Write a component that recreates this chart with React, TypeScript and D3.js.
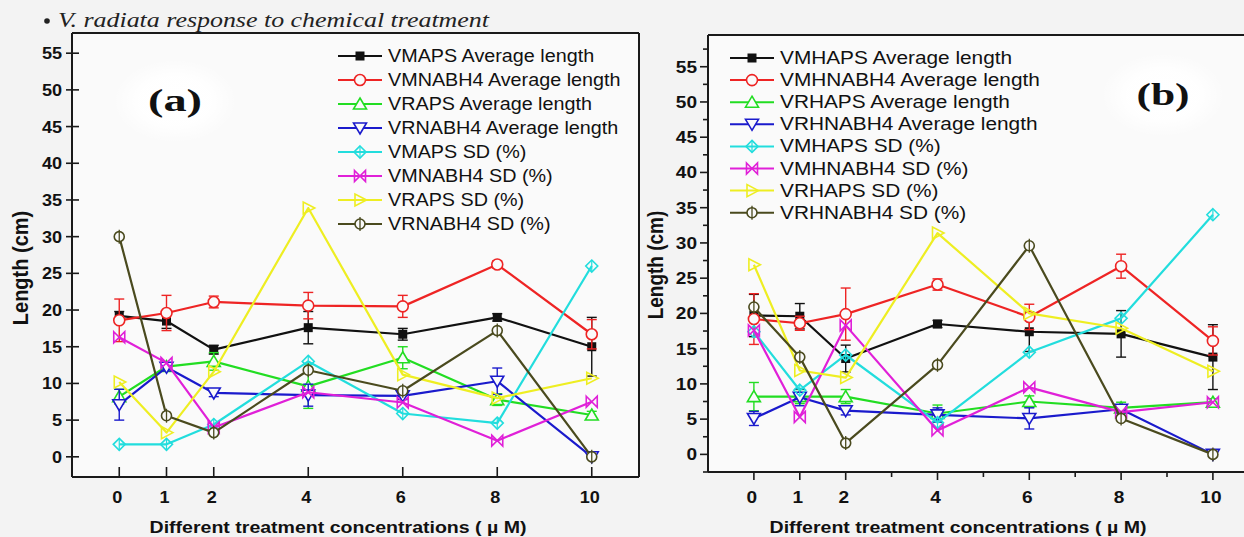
import React, { useEffect, useRef } from 'react'
import * as d3 from 'd3'

const W = 1244
const H = 537

// x categories (treatment concentration, µM)
const conc = [0, 1, 2, 4, 6, 8, 10]
const yTicks = [0, 5, 10, 15, 20, 25, 30, 35, 40, 45, 50, 55]

// panel (a)
const namesA = [
  'VMAPS Average length',
  'VMNABH4 Average length',
  'VRAPS Average length',
  'VRNABH4 Average length',
  'VMAPS SD (%)',
  'VMNABH4 SD (%)',
  'VRAPS SD (%)',
  'VRNABH4 SD (%)'
]
const aVMAPSAvg = [19.2, 18.5, 14.6, 17.6, 16.7, 19.0, 15.0]
const aVMAPSErr = [0.6, 1.0, 0.6, 2.2, 0.8, 0.5, 4.0]
const aVMNABH4Avg = [18.6, 19.6, 21.1, 20.6, 20.5, 26.2, 16.7]
const aVMNABH4Err = [2.9, 2.4, 0.8, 1.8, 1.5, 0.5, 2.0]
const aVRAPSAvg = [8.2, 12.3, 13.0, 9.6, 13.5, 7.8, 5.7]
const aVRAPSErr = [1.0, 0.5, 1.2, 3.0, 1.5, 0.8, 0.5]
const aVRNABH4Avg = [7.1, 12.2, 8.7, 8.4, 8.3, 10.3, 0]
const aVRNABH4Err = [2.1, 0.5, 0.5, 1.5, 0.5, 1.8, 0.3]
const aVMAPSSD = [1.7, 1.7, 4.4, 13.0, 5.9, 4.6, 26.0]
const aVMNABH4SD = [16.3, 12.8, 4.0, 8.8, 7.4, 2.2, 7.5]
const aVRAPSSD = [10.2, 3.3, 11.6, 33.9, 11.2, 8.0, 10.7]
const aVRNABH4SD = [30.0, 5.6, 3.3, 11.8, 9.0, 17.2, 0]

// panel (b)
const namesB = [
  'VMHAPS Average length',
  'VMHNABH4 Average length',
  'VRHAPS Average length',
  'VRHNABH4 Average length',
  'VMHAPS SD (%)',
  'VMHNABH4 SD (%)',
  'VRHAPS SD (%)',
  'VRHNABH4 SD (%)'
]
const bVMHAPSAvg = [19.7, 19.6, 13.6, 18.5, 17.4, 17.1, 13.8]
const bVMHAPSErr = [3.0, 1.8, 1.9, 0.5, 2.8, 3.3, 4.6]
const bVMHNABH4Avg = [19.2, 18.6, 19.9, 24.1, 19.5, 26.7, 16.1]
const bVMHNABH4Err = [3.6, 1.0, 3.7, 0.8, 1.8, 1.7, 2.0]
const bVRHAPSAvg = [8.2, 8.2, 8.2, 5.8, 7.5, 6.6, 7.4]
const bVRHAPSErr = [2.0, 1.0, 1.0, 1.2, 0.8, 0.8, 0.5]
const bVRHNABH4Avg = [5.1, 8.1, 6.2, 5.6, 5.1, 6.4, 0]
const bVRHNABH4Err = [1.0, 1.2, 0.6, 1.0, 1.5, 0.5, 0.3]
const bVMHAPSSD = [17.4, 9.1, 14.1, 4.5, 14.5, 19.3, 34.0]
const bVMHNABH4SD = [17.6, 5.3, 18.3, 3.4, 9.5, 6.0, 7.4]
const bVRHAPSSD = [26.9, 11.9, 10.9, 31.4, 20.0, 17.9, 11.8]
const bVRHNABH4SD = [20.9, 13.8, 1.6, 12.7, 29.6, 5.1, 0]

const colors = ['#111111', '#ee2424', '#22dd22', '#1a1acc', '#22dddd', '#e020d8', '#eeee22', '#4a4a1e']
const markers = ['square', 'circle', 'up', 'down', 'diamond', 'bowtie', 'right', 'phi']

const SANS = '"Liberation Sans", Arial, sans-serif'
const SERIF = '"Liberation Serif", "Times New Roman", serif'
const PLOT_BG = '#fafafa'

const panels = [
  {
    names: namesA,
    values: [aVMAPSAvg, aVMNABH4Avg, aVRAPSAvg, aVRNABH4Avg, aVMAPSSD, aVMNABH4SD, aVRAPSSD, aVRNABH4SD],
    errors: [aVMAPSErr, aVMNABH4Err, aVRAPSErr, aVRNABH4Err],
    left: 72, right: 639, top: 33, bottom: 477,
    yDomain: [-2.75, 57.75],
    sx: 1.13,
    legendX: 338, legendY: 56, legendStep: 24,
    tag: '(a)', tagX: 175, tagY: 111, tagSx: 1.45,
    yTitleX: 20, yTitleY: 268, yTitleSize: 20,
    xTitleX: 338,
    yLabelX: 62,
    xTickUp: true,
    minor: false,
    rightBorder: true
  },
  {
    names: namesB,
    values: [bVMHAPSAvg, bVMHNABH4Avg, bVRHAPSAvg, bVRHNABH4Avg, bVMHAPSSD, bVMHNABH4SD, bVRHAPSSD, bVRHNABH4SD],
    errors: [bVMHAPSErr, bVMHNABH4Err, bVRHAPSErr, bVRHNABH4Err],
    left: 708, right: 1260, top: 35, bottom: 472,
    yDomain: [-2.5, 59.5],
    sx: 1.19,
    legendX: 730, legendY: 58, legendStep: 22.1,
    tag: '(b)', tagX: 1163, tagY: 105, tagSx: 1.36,
    yTitleX: 656, yTitleY: 265, yTitleSize: 19,
    xTitleX: 958,
    yLabelX: 697,
    xTickUp: false,
    minor: true,
    rightBorder: false
  }
]

// text that is stretched sideways like the scanned figure
const label = (parent, x, y, str, opts) => {
  const { size = 16, weight = 'normal', sx = 1, anchor = 'start', family = SANS, fill = '#111' } = opts
  const g = parent.append('g').attr('transform', `translate(${x},${y}) scale(${sx},1)`)
  g.append('text')
    .attr('text-anchor', anchor)
    .attr('font-size', size)
    .attr('font-weight', weight)
    .attr('font-family', family)
    .attr('fill', fill)
    .text(str)
  return g
}

const drawMarker = (g, type, x, y, color) => {
  const sw = 1.6
  switch (type) {
    case 'square':
      g.append('rect').attr('x', x - 4.5).attr('y', y - 4.5).attr('width', 9).attr('height', 9).attr('fill', color)
      break
    case 'circle':
      g.append('circle').attr('cx', x).attr('cy', y).attr('r', 5.5).attr('fill', PLOT_BG).attr('stroke', color).attr('stroke-width', sw)
      break
    case 'up':
      g.append('path').attr('d', `M${x},${y - 6}L${x + 6.5},${y + 5}L${x - 6.5},${y + 5}Z`).attr('fill', PLOT_BG).attr('stroke', color).attr('stroke-width', sw)
      break
    case 'down':
      g.append('path').attr('d', `M${x},${y + 6}L${x + 6.5},${y - 5}L${x - 6.5},${y - 5}Z`).attr('fill', PLOT_BG).attr('stroke', color).attr('stroke-width', sw)
      break
    case 'diamond':
      g.append('path').attr('d', `M${x},${y - 6}L${x + 6},${y}L${x},${y + 6}L${x - 6},${y}Z`).attr('fill', 'none').attr('stroke', color).attr('stroke-width', sw)
      g.append('line').attr('x1', x).attr('x2', x).attr('y1', y - 6).attr('y2', y + 6).attr('stroke', color).attr('stroke-width', 1.2)
      break
    case 'bowtie':
      g.append('path').attr('d', `M${x - 5.5},${y - 5.5}L${x + 5.5},${y + 5.5}L${x + 5.5},${y - 5.5}L${x - 5.5},${y + 5.5}Z`).attr('fill', 'none').attr('stroke', color).attr('stroke-width', sw)
      break
    case 'right':
      g.append('path').attr('d', `M${x + 6.5},${y}L${x - 5},${y - 6}L${x - 5},${y + 6}Z`).attr('fill', 'none').attr('stroke', color).attr('stroke-width', sw)
      break
    case 'phi':
      g.append('circle').attr('cx', x).attr('cy', y).attr('r', 5).attr('fill', PLOT_BG).attr('stroke', color).attr('stroke-width', sw)
      g.append('line').attr('x1', x).attr('x2', x).attr('y1', y - 7).attr('y2', y + 7).attr('stroke', color).attr('stroke-width', 1.3)
      break
    default:
      break
  }
}

const App = () => {
  const svgRef = useRef(null)

  useEffect(() => {
    const svg = d3.select(svgRef.current)
    svg.selectAll('*').remove()

    const defs = svg.append('defs')
    const glow = defs.append('radialGradient').attr('id', 'glow')
    glow.append('stop').attr('offset', '0%').attr('stop-color', '#ffffff').attr('stop-opacity', 1)
    glow.append('stop').attr('offset', '60%').attr('stop-color', '#ffffff').attr('stop-opacity', 0.9)
    glow.append('stop').attr('offset', '100%').attr('stop-color', '#ffffff').attr('stop-opacity', 0)

    svg.append('rect').attr('width', W).attr('height', H).attr('fill', '#f3f3f3')

    // heading line above the figure
    svg.append('circle').attr('cx', 47).attr('cy', 21).attr('r', 2.8).attr('fill', '#222')
    svg
      .append('text')
      .attr('x', 58)
      .attr('y', 27)
      .attr('font-family', SERIF)
      .attr('font-style', 'italic')
      .attr('font-size', 21)
      .attr('fill', '#222')
      .attr('textLength', 431)
      .attr('lengthAdjust', 'spacingAndGlyphs')
      .text('V. radiata response to chemical treatment')

    panels.forEach((p) => {
      const x = d3.scaleLinear().domain([-1, 11]).range([p.left, p.left + (p.xTickUp ? p.right - p.left : 12 * 45.9)])
      const y = d3.scaleLinear().domain(p.yDomain).range([p.bottom, p.top])
      const g = svg.append('g')

      // plot area
      g.append('rect')
        .attr('x', p.left)
        .attr('y', p.top)
        .attr('width', p.right - p.left)
        .attr('height', p.bottom - p.top)
        .attr('fill', PLOT_BG)

      // white glow behind the panel tag
      g.append('ellipse')
        .attr('cx', p.tagX)
        .attr('cy', p.tagY - 10)
        .attr('rx', 62)
        .attr('ry', 42)
        .attr('fill', 'url(#glow)')
      label(g, p.tagX, p.tagY, p.tag, { size: 32, weight: 'bold', sx: p.tagSx, anchor: 'middle', family: SERIF, fill: '#111' })

      // frame
      const frame = g.append('g').attr('stroke', '#1a1a1a').attr('stroke-width', 2).attr('fill', 'none')
      frame.append('line').attr('x1', p.left).attr('x2', p.left).attr('y1', p.top).attr('y2', p.bottom)
      frame.append('line').attr('x1', p.left).attr('x2', p.right).attr('y1', p.bottom).attr('y2', p.bottom)
      frame.append('line').attr('x1', p.left).attr('x2', p.right).attr('y1', p.top).attr('y2', p.top)
      if (p.rightBorder) frame.append('line').attr('x1', p.right).attr('x2', p.right).attr('y1', p.top).attr('y2', p.bottom)

      // y ticks
      const tk = g.append('g').attr('stroke', '#1a1a1a').attr('stroke-width', 1.6)
      tk.selectAll('line.ymaj')
        .data(yTicks)
        .enter()
        .append('line')
        .attr('x1', p.minor ? p.left - 8 : p.left - 6)
        .attr('x2', p.minor ? p.left : p.left + 7)
        .attr('y1', (d) => y(d))
        .attr('y2', (d) => y(d))
      if (p.minor) {
        tk.selectAll('line.ymin')
          .data(d3.range(-2.5, 58, 5))
          .enter()
          .append('line')
          .attr('x1', p.left - 5)
          .attr('x2', p.left)
          .attr('y1', (d) => y(d))
          .attr('y2', (d) => y(d))
      }
      yTicks.forEach((t) => {
        label(g, p.yLabelX, y(t) + 6, String(t), { size: 16, weight: 'bold', sx: p.sx, anchor: 'end' })
      })

      // x ticks
      tk.selectAll('line.xmaj')
        .data(conc)
        .enter()
        .append('line')
        .attr('x1', (d) => x(d))
        .attr('x2', (d) => x(d))
        .attr('y1', p.bottom)
        .attr('y2', p.xTickUp ? p.bottom - 10 : p.bottom + 8)
      if (p.minor) {
        tk.selectAll('line.xmin')
          .data([3, 5, 7, 9])
          .enter()
          .append('line')
          .attr('x1', (d) => x(d))
          .attr('x2', (d) => x(d))
          .attr('y1', p.bottom)
          .attr('y2', p.bottom + 5)
      }
      conc.forEach((c) => {
        label(g, x(c) - 2, 503, String(c), { size: 16, weight: 'bold', sx: p.sx, anchor: 'middle' })
      })

      // axis titles
      label(g, p.xTitleX, 533, 'Different treatment concentrations ( \u00b5 M)', { size: 17, weight: 'bold', sx: 1.15, anchor: 'middle' })
      const yt = g.append('g').attr('transform', `translate(${p.yTitleX},${p.yTitleY}) scale(1.12,1) rotate(-90)`)
      yt.append('text')
        .attr('text-anchor', 'middle')
        .attr('dy', '0.35em')
        .attr('font-family', SANS)
        .attr('font-weight', 'bold')
        .attr('font-size', p.yTitleSize)
        .attr('fill', '#111')
        .text('Length (cm)')

      // series
      const line = d3
        .line()
        .x((d) => x(d[0]))
        .y((d) => y(d[1]))

      p.values.forEach((vals, i) => {
        const color = colors[i]
        const sg = g.append('g')
        const pts = conc.map((c, j) => [c, vals[j]])
        sg.append('path')
          .datum(pts)
          .attr('d', line)
          .attr('fill', 'none')
          .attr('stroke', color)
          .attr('stroke-width', 2.2)
          .attr('stroke-linejoin', 'round')

        const errs = p.errors[i]
        if (errs) {
          const eg = sg.append('g').attr('stroke', color).attr('stroke-width', 1.4)
          pts.forEach((d, j) => {
            const cx = x(d[0])
            const y1 = y(d[1] + errs[j])
            const y2 = y(d[1] - errs[j])
            eg.append('line').attr('x1', cx).attr('x2', cx).attr('y1', y1).attr('y2', y2)
            eg.append('line').attr('x1', cx - 5).attr('x2', cx + 5).attr('y1', y1).attr('y2', y1)
            eg.append('line').attr('x1', cx - 5).attr('x2', cx + 5).attr('y1', y2).attr('y2', y2)
          })
        }
        pts.forEach((d) => drawMarker(sg, markers[i], x(d[0]), y(d[1]), color))
      })

      // legend
      p.names.forEach((name, i) => {
        const cy = p.legendY + i * p.legendStep
        const lg = g.append('g')
        lg.append('line')
          .attr('x1', p.legendX)
          .attr('x2', p.legendX + 44)
          .attr('y1', cy)
          .attr('y2', cy)
          .attr('stroke', colors[i])
          .attr('stroke-width', 2)
        drawMarker(lg, markers[i], p.legendX + 22, cy, colors[i])
        label(lg, p.legendX + 50, cy + 6, name, { size: 17.5, sx: p.sx, fill: '#111' })
      })
    })
  }, [])

  return (
    <div style={{ position: 'absolute', left: 0, top: 0, width: W, height: H, overflow: 'hidden' }}>
      <svg ref={svgRef} width={W} height={H} style={{ display: 'block' }}></svg>
    </div>
  )
}

export default App
